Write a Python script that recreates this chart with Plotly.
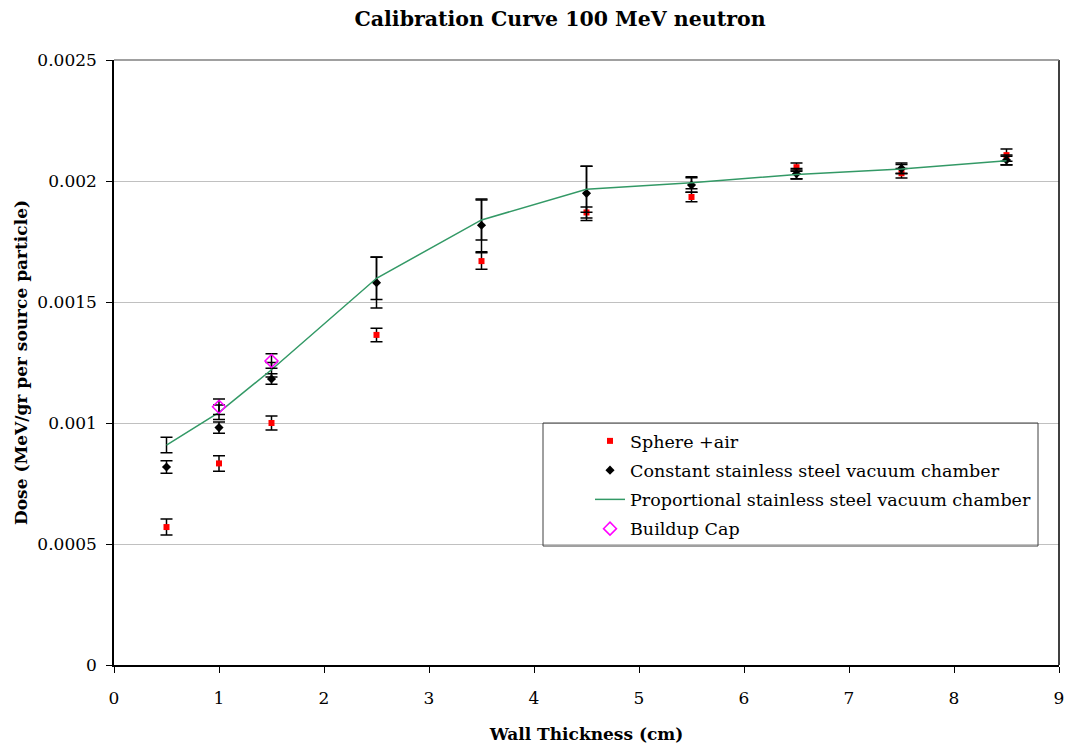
import plotly.graph_objects as go

thickness = [0.5, 1, 1.5, 2.5, 3.5, 4.5, 5.5, 6.5, 7.5, 8.5]

sphere_air = [0.000570, 0.000833, 0.001000, 0.001364, 0.001669, 0.001870, 0.001934, 0.002057, 0.002032, 0.002107]
sphere_air_err = [0.000033, 0.000032, 0.000029, 0.000028, 0.000034, 0.000023, 0.000020, 0.000017, 0.000020, 0.000025]

constant_ss = [0.000818, 0.000981, 0.001182, 0.001580, 0.001817, 0.001949, 0.001983, 0.002030, 0.002052, 0.002087]
constant_ss_err = [0.000026, 0.000023, 0.000022, 0.000105, 0.000109, 0.000112, 0.000030, 0.000022, 0.000022, 0.000020]

proportional_ss = [0.000909, 0.001044, 0.001220, 0.001598, 0.001839, 0.001966, 0.001993, 0.002027, 0.002050, 0.002084]
proportional_ss_err = [0.000032, 0.000030, 0.000030, 0.000088, 0.000083, 0.000095, 0.000025, 0.000018, 0.000018, 0.000018]

buildup_x = [1, 1.5]
buildup_cap = [0.001067, 0.001256]
buildup_err = [0.000032, 0.000030]

FONT = "DejaVu Serif"

L, R, T, B = 114, 9, 60, 82
W, H = 1068, 747
PW, PH = W - L - R, H - T - B

def px_x(p):
    return (p - L) / PW

def px_y(p):
    return (H - B - p) / PH

def eb(vals):
    return dict(type="data", array=vals, visible=True, color="black", thickness=1.5, width=6)

fig = go.Figure()
fig.add_trace(go.Scatter(
    x=thickness, y=sphere_air, mode="markers", name="Sphere +air",
    marker=dict(symbol="square", size=6, color="#ff0000"),
    error_y=eb(sphere_air_err), legendgroup="a"))
fig.add_trace(go.Scatter(
    x=thickness, y=constant_ss, mode="markers", name="Constant stainless steel vacuum chamber",
    marker=dict(symbol="diamond", size=7, color="black"),
    error_y=eb(constant_ss_err), legendgroup="b"))
fig.add_trace(go.Scatter(
    x=thickness, y=proportional_ss, mode="lines", name="Proportional stainless steel vacuum chamber",
    line=dict(color="#339966", width=1.5),
    error_y=eb(proportional_ss_err), legendgroup="c"))
fig.add_trace(go.Scatter(
    x=buildup_x, y=buildup_cap, mode="markers", name="Buildup Cap",
    marker=dict(symbol="diamond-open", size=10, color="#ff00ff", line=dict(width=1.5)),
    error_y=eb(buildup_err), legendgroup="d"))

fig.update_layout(
    width=W, height=H,
    margin=dict(l=L, r=R, t=T, b=B, autoexpand=False),
    paper_bgcolor="white", plot_bgcolor="white",
    font=dict(family=FONT, size=17, color="black"),
    title=dict(text="<b>Calibration Curve 100 MeV neutron</b>", x=560/W, xanchor="center",
               xref="container", y=1 - 19/H, yanchor="middle", font=dict(size=20.5, family=FONT)),
    legend=dict(x=px_x(590), y=px_y(423), xanchor="left", yanchor="top",
                borderwidth=0, bgcolor="rgba(0,0,0,0)",
                font=dict(family=FONT, size=17.5), tracegroupgap=3.5, traceorder="grouped",
                itemwidth=30),
    showlegend=True,
)
fig.update_xaxes(
    range=[0, 9], dtick=1, tick0=0, showgrid=False, showline=True, linecolor="black", linewidth=1.5,
    mirror=False, ticks="outside", ticklen=6, tickcolor="black", zeroline=False,
    ticklabelstandoff=11, automargin=False,
    title=dict(text="<b>Wall Thickness (cm)</b>", font=dict(size=17, family=FONT), standoff=21),
    tickfont=dict(size=17, family=FONT))
fig.update_yaxes(
    range=[0, 0.0025], dtick=0.0005, tick0=0, showgrid=True, gridcolor="#c0c0c0", gridwidth=1,
    showline=True, linecolor="black", linewidth=1.5, ticks="outside", ticklen=6, tickcolor="black",
    zeroline=False, tickformat="~g", exponentformat="none", ticklabelstandoff=6, automargin=False,
    title=dict(text="<b>Dose (MeV/gr per source particle)</b>", font=dict(size=17, family=FONT), standoff=5),
    tickfont=dict(size=17, family=FONT))
# plot-area frame pieces
fig.add_shape(type="line", xref="paper", yref="paper", x0=1, x1=1, y0=0, y1=1,
              line=dict(color="black", width=1.5))
fig.add_shape(type="line", xref="paper", yref="paper", x0=0, x1=1, y0=1, y1=1,
              line=dict(color="#808080", width=1.5))
# legend box
fig.add_shape(type="rect", xref="paper", yref="paper", layer="above",
              x0=px_x(543), x1=px_x(1038), y0=px_y(546), y1=px_y(423),
              line=dict(color="#404040", width=1), fillcolor="rgba(0,0,0,0)")

fig.write_html("out.html")
